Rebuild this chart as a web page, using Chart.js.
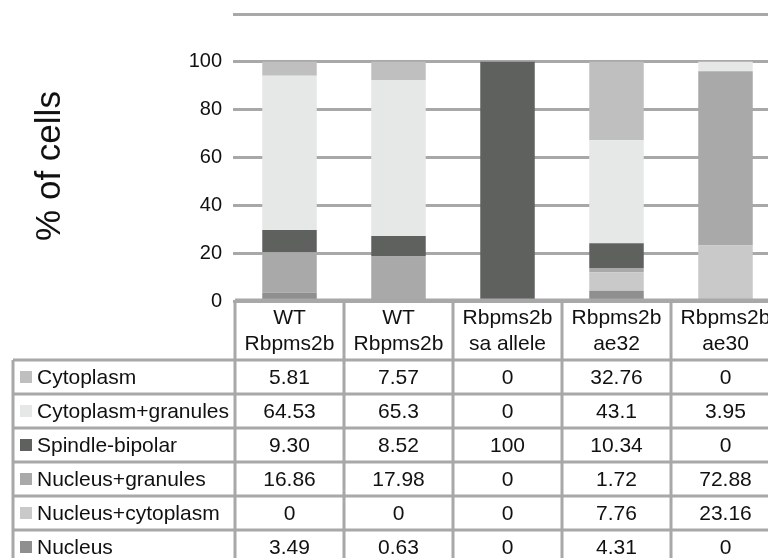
<!DOCTYPE html>
<html><head><meta charset="utf-8">
<script src="https://cdn.jsdelivr.net/npm/chart.js@4"></script>
<style>html,body{margin:0;padding:0;background:#fff;overflow:hidden;width:768px;height:558px}canvas{display:block}</style>
</head><body><canvas id="c" width="800" height="558"></canvas>
<script>
const categories = [["WT","Rbpms2b"],["WT","Rbpms2b"],["Rbpms2b","sa allele"],["Rbpms2b","ae32"],["Rbpms2b","ae30"]];
const seriesNames = ["Cytoplasm","Cytoplasm+granules","Spindle-bipolar","Nucleus+granules","Nucleus+cytoplasm","Nucleus"];
const cytoplasm = ["5.81","7.57","0","32.76","0"];
const cytoplasmGranules = ["64.53","65.3","0","43.1","3.95"];
const spindleBipolar = ["9.30","8.52","100","10.34","0"];
const nucleusGranules = ["16.86","17.98","0","1.72","72.88"];
const nucleusCytoplasm = ["0","0","0","7.76","23.16"];
const nucleus = ["3.49","0.63","0","4.31","0"];
const yTicks = [0,20,40,60,80,100,120];
const yTitle = "% of cells";

const seriesValues = [cytoplasm, cytoplasmGranules, spindleBipolar, nucleusGranules, nucleusCytoplasm, nucleus];
const colors = ["#bfbfbf","#e6e7e7","#5f615f","#a9a9a9","#c9c9c9","#8f8f8f"];
const FONT = '"Liberation Sans", Arial, sans-serif';
const TEXT = '#111111';
const GRID = '#a8a8a8';

// bottom of stack first
const datasets = seriesNames.map((name, i) => ({
  label: name,
  data: seriesValues[i].map(Number),
  backgroundColor: colors[i],
  borderWidth: 0,
  barPercentage: 0.5,
  categoryPercentage: 1.0
})).reverse();

const tablePlugin = {
  id: 'dataTable',
  afterDraw(chart) {
    const ctx = chart.ctx;
    const area = chart.chartArea;
    const xs = chart.scales.x;
    const n = categories.length;
    const colW = (area.right - area.left) / n;
    const top = chart.scales.y.getPixelForValue(0) - 1;
    const headerH = 60, rowH = 34, legendLeft = 13;
    const headBottom = top + headerH;
    const tableBottom = headBottom + rowH * seriesNames.length;
    ctx.save();
    ctx.strokeStyle = GRID;
    ctx.lineWidth = 3;
    ctx.beginPath();
    ctx.moveTo(area.left, top); ctx.lineTo(area.right, top);
    for (let i = 0; i <= n; i++) {
      const x = area.left + i * colW;
      ctx.moveTo(x, top); ctx.lineTo(x, tableBottom);
    }
    ctx.moveTo(legendLeft, headBottom); ctx.lineTo(legendLeft, tableBottom);
    for (let r = 0; r <= seriesNames.length; r++) {
      const y = headBottom + r * rowH;
      ctx.moveTo(legendLeft, y); ctx.lineTo(area.right, y);
    }
    ctx.stroke();

    ctx.fillStyle = TEXT;
    ctx.font = '21px ' + FONT;
    ctx.textAlign = 'center';
    ctx.textBaseline = 'middle';
    const hc = top + headerH / 2;
    categories.forEach((lines, i) => {
      const cx = xs.getPixelForValue(i);
      ctx.fillText(lines[0], cx, hc - 12);
      ctx.fillText(lines[1], cx, hc + 14);
    });
    seriesNames.forEach((name, r) => {
      const cy = headBottom + r * rowH + rowH / 2;
      ctx.fillStyle = colors[r];
      ctx.fillRect(20, cy - 6, 12, 12);
      ctx.fillStyle = TEXT;
      ctx.textAlign = 'left';
      ctx.fillText(name, 37, cy + 1);
      ctx.textAlign = 'center';
      seriesValues[r].forEach((v, i) => {
        ctx.fillText(v, xs.getPixelForValue(i), cy + 1);
      });
    });

    // y axis title
    ctx.font = '35px ' + FONT;
    ctx.textAlign = 'center';
    ctx.textBaseline = 'alphabetic';
    ctx.translate(60, 166);
    ctx.rotate(-Math.PI / 2);
    ctx.fillText(yTitle, 0, 0);
    ctx.restore();
  }
};

new Chart(document.getElementById('c'), {
  type: 'bar',
  data: { labels: categories.map(l => l.join(' ')), datasets },
  options: {
    responsive: false,
    animation: false,
    devicePixelRatio: 1,
    layout: { padding: { top: 14, right: 20, bottom: 257, left: 0 } },
    plugins: { legend: { display: false }, tooltip: { enabled: false } },
    scales: {
      x: { display: false, stacked: true },
      y: {
        stacked: true,
        min: 0, max: 120,
        afterBuildTicks: s => { s.ticks = yTicks.map(v => ({ value: v })); },
        afterFit: s => { s.width = 235; s.paddingTop = 0; s.paddingBottom = 0; },
        border: { display: false },
        grid: { color: GRID, lineWidth: 3, drawTicks: true, tickLength: 2 },
        ticks: {
          padding: 11,
          color: TEXT,
          font: { family: FONT, size: 20 },
          callback: v => (v === 120 ? '' : v)
        }
      }
    }
  },
  plugins: [tablePlugin]
});
</script>
</body></html>
